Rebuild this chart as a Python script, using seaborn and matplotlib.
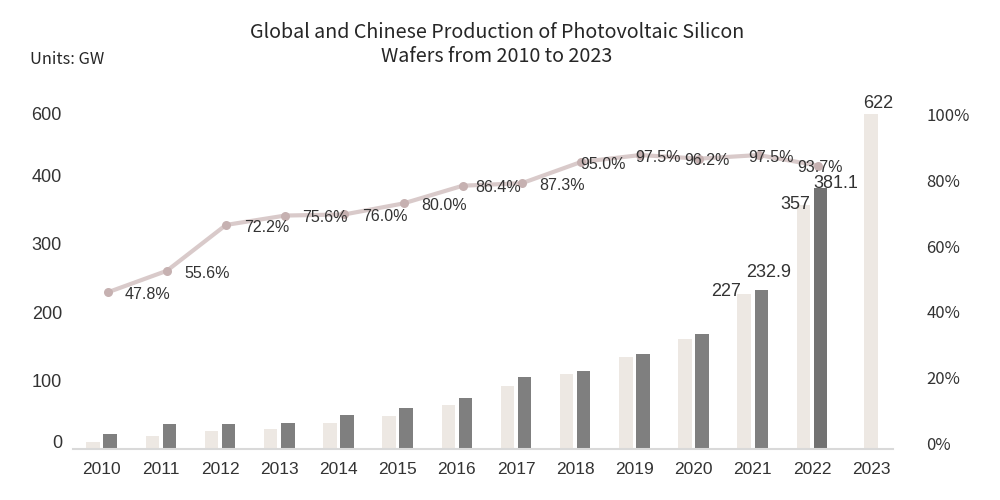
import numpy as np
import pandas as pd
import seaborn as sns
import matplotlib.pyplot as plt
from matplotlib.transforms import ScaledTranslation

# data (GW and China share in %)
years = ["2010", "2011", "2012", "2013", "2014", "2015", "2016",
         "2017", "2018", "2019", "2020", "2021", "2022", "2023"]
china_gw = [11, 19.5, 26, 29.6, 38, 48, 65, 92, 109.5, 135, 161.5, 227, 357, 622]
global_gw = [23, 36.5, 36.5, 39, 50, 60, 75, 105.6, 115, 138.6, 168, 232.9, 381.1]
china_share = [47.8, 55.6, 72.2, 75.6, 76.0, 80.0, 86.4, 87.3, 95.0, 97.5, 96.2, 97.5, 93.7]

left_ticks = [0, 100, 200, 300, 400, 490]
left_labels = ["0", "100", "200", "300", "400", "600"]
right_ticks = [0, 20, 40, 60, 80, 100]
right_labels = ["0%", "20%", "40%", "60%", "80%", "100%"]

BEIGE = "#EDE8E3"
GRAY = "#7F7F7F"
GRAY_DARK = "#727272"
LINE = "#D9CACA"
MARK = "#C6B1B1"
TXT = "#333333"

sns.set_theme(style="white")
plt.rcParams["font.family"] = ["Liberation Sans", "DejaVu Sans"]

n_pair = len(global_gw)
pairs = pd.DataFrame({
    "year": years[:n_pair] * 2,
    "value": china_gw[:n_pair] + global_gw,
    "series": ["China"] * n_pair + ["Global"] * n_pair,
})
solo = pd.DataFrame({
    "year": years,
    "value": [np.nan] * n_pair + china_gw[n_pair:],
})

fig = plt.figure(figsize=(10, 5), dpi=100)
ax = fig.add_axes([0.073, 0.1014, 0.82, 0.6714])

sns.barplot(data=pairs, x="year", y="value", hue="series", order=years,
            hue_order=["China", "Global"], palette=[BEIGE, GRAY],
            width=0.576, gap=0.208, dodge=True, legend=False, ax=ax,
            saturation=1, linewidth=0)
sns.barplot(data=solo, x="year", y="value", order=years, color=BEIGE,
            width=0.228, saturation=1, linewidth=0, ax=ax)
# 2022 global bar is a slightly darker grey in the original
ax.containers[1][n_pair - 1].set_facecolor(GRAY_DARK)

ax.set_xlim(-0.485, 13.37)
ax.set_ylim(0, 490)
ax.set_xlabel("")
ax.set_ylabel("")
ax.set_yticks(left_ticks, left_labels)
ax.tick_params(axis="y", length=0, pad=8, labelsize=13, labelcolor=TXT)
ax.tick_params(axis="x", length=0, pad=9, labelsize=12.5, labelcolor=TXT)
for s in ["left", "right", "top"]:
    ax.spines[s].set_visible(False)
ax.spines["bottom"].set_color("#D9D9D9")
ax.spines["bottom"].set_linewidth(1.5)
# the "0" label sits a little above the baseline in the reference
zero_lab = ax.yaxis.get_major_ticks()[0].label1
zero_lab.set_transform(zero_lab.get_transform() + ScaledTranslation(0, 0.08, fig.dpi_scale_trans))

# value labels on the last bars
xs = np.arange(len(years))
num_font = ["Liberation Sans Narrow", "Liberation Sans"]
bar_notes = [
    (xs[11] - 0.144, china_gw[11], "227", -2, -1.5, "right"),
    (xs[11] + 0.144, global_gw[11], "232.9", 5, 9.5, "center"),
    (xs[12] - 0.144, china_gw[12], "357", 4.8, -3, "right"),
    (xs[12] + 0.144, global_gw[12], "381.1", -4.8, 0.3, "left"),
]
for x, v, s, dx, dy, ha in bar_notes:
    ax.annotate(s, (x, v), xytext=(dx, dy), textcoords="offset points",
                ha=ha, va="baseline", fontsize=13, color=TXT, family=num_font)
ax.annotate("622", (xs[13], min(china_gw[13], ax.get_ylim()[1])), xytext=(-5.5, 3.8),
            textcoords="offset points", ha="left", va="baseline", fontsize=13,
            color=TXT, family=num_font, annotation_clip=False)

# share line on its own hidden scale
ax2 = ax.twinx()
ax2.set_ylim(-9.0, 112.5)
line_x = xs[:n_pair] + 0.1
sns.lineplot(x=line_x, y=china_share, ax=ax2, color=LINE, linewidth=3,
             marker="o", markersize=6.5, markerfacecolor=MARK, markeredgewidth=0)
ax2.set_yticks([])
for s in ax2.spines.values():
    s.set_visible(False)

label_dx = [12.5, 13, 13, 12.5, 13, 12.5, 9, 12.5, -0.7, -3.6, -11, -7.5, -15]
for x, v, dx in zip(line_x, china_share, label_dx):
    ax2.annotate(f"{v:.1f}%", (x, v), xytext=(dx, -0.5), textcoords="offset points",
                 ha="left", va="center_baseline", fontsize=11.5, color=TXT,
                 family=num_font)

# visible right percentage axis
ax3 = ax.twinx()
ax3.set_ylim(-1.8, 100.3)
ax3.set_yticks(right_ticks, right_labels)
ax3.tick_params(axis="y", length=0, pad=24, labelsize=12, labelcolor=TXT)
for lab in ax3.get_yticklabels():
    lab.set_family(["Noto Sans CJK SC", "DejaVu Sans"])
for s in ax3.spines.values():
    s.set_visible(False)

title_font = ["Noto Sans CJK SC", "DejaVu Sans"]
fig.text(0.497, 1 - 32 / 500, "Global and Chinese Production of Photovoltaic Silicon",
         ha="center", va="center", fontsize=14.2, color="#262626", family=title_font)
fig.text(0.497, 1 - 57 / 500, "Wafers from 2010 to 2023",
         ha="center", va="center", fontsize=14.2, color="#262626", family=title_font)
fig.text(0.03, 1 - 60 / 500, "Units: GW", ha="left", va="center", fontsize=11.8,
         color="#262626", family=title_font)

fig.savefig("out.png", dpi=100)
